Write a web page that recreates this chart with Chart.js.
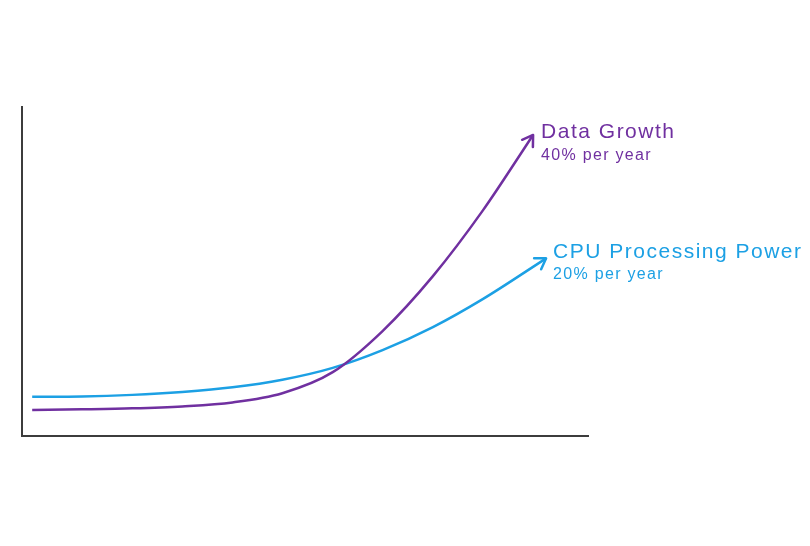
<!DOCTYPE html>
<html>
<head>
<meta charset="utf-8">
<script src="https://cdn.jsdelivr.net/npm/chart.js@4/dist/chart.umd.min.js"></script>
<style>
  html, body { margin: 0; padding: 0; background: #ffffff; }
  #wrap { width: 810px; height: 546px; }
</style>
</head>
<body>
<div id="wrap"><canvas id="c" width="810" height="546"></canvas></div>
<script>
// ---- data (x and y in arbitrary 0-100 units) ----
const seriesNames = ["Data Growth", "CPU Processing Power"];
const seriesRates = ["40% per year", "20% per year"];

const dataGrowthX = [1.8, 10.6, 19.5, 28.3, 37.2, 46.0, 54.9, 63.7, 72.6, 81.4, 90.3];
const dataGrowthY = [7.9, 8.1, 8.4, 9.0, 10.2, 13.0, 19.4, 31.9, 48.6, 68.5, 91.5];

const cpuPowerX = [1.8, 10.6, 19.5, 28.3, 37.2, 46.0, 54.9, 63.7, 72.6, 81.4, 92.6];
const cpuPowerY = [11.9, 12.0, 12.5, 13.4, 14.8, 17.1, 20.7, 26.1, 33.1, 41.6, 54.0];

// ---- styles ----
const colors = ["#7030a0", "#1ca0e4"];

function toPoints(xs, ys) { return xs.map((x, i) => ({ x: x, y: ys[i] })); }

const arrowLabelPlugin = {
  id: 'arrowLabels',
  afterDatasetsDraw(chart) {
    const ctx = chart.ctx;
    const offs = [
      { dx: 8, ty: 3, sy: 25 },
      { dx: 7, ty: 0, sy: 21 }
    ];
    chart.data.datasets.forEach((ds, i) => {
      const meta = chart.getDatasetMeta(i);
      const pts = meta.data;
      const a = pts[pts.length - 1];
      const b = pts[pts.length - 2];
      let ang;
      if (a.cp1x !== undefined && (a.cp1x !== a.x || a.cp1y !== a.y)) {
        ang = Math.atan2(a.y - a.cp1y, a.x - a.cp1x);
      } else {
        ang = Math.atan2(a.y - b.y, a.x - b.x);
      }
      const L = 12, spread = Math.PI / 5.5;
      ctx.save();
      ctx.strokeStyle = ds.borderColor;
      ctx.lineWidth = 2.5;
      ctx.lineCap = 'round';
      ctx.lineJoin = 'round';
      ctx.beginPath();
      ctx.moveTo(a.x - L * Math.cos(ang - spread), a.y - L * Math.sin(ang - spread));
      ctx.lineTo(a.x, a.y);
      ctx.lineTo(a.x - L * Math.cos(ang + spread), a.y - L * Math.sin(ang + spread));
      ctx.stroke();

      // labels
      const o = offs[i];
      ctx.fillStyle = ds.borderColor;
      ctx.textAlign = 'left';
      ctx.textBaseline = 'alphabetic';
      ctx.font = '21px "Liberation Sans", Arial, sans-serif';
      if ('letterSpacing' in ctx) ctx.letterSpacing = '1.5px';
      ctx.fillText(seriesNames[i], a.x + o.dx, a.y + o.ty);
      ctx.font = '16px "Liberation Sans", Arial, sans-serif';
      if ('letterSpacing' in ctx) ctx.letterSpacing = '1.3px';
      ctx.fillText(seriesRates[i], a.x + o.dx, a.y + o.sy);
      ctx.restore();
    });
  }
};

new Chart(document.getElementById('c'), {
  type: 'line',
  data: {
    datasets: [
      {
        label: seriesNames[0],
        data: toPoints(dataGrowthX, dataGrowthY),
        borderColor: colors[0],
        borderWidth: 2.5,
        pointRadius: 0,
        cubicInterpolationMode: 'monotone',
        fill: false
      },
      {
        label: seriesNames[1],
        data: toPoints(cpuPowerX, cpuPowerY),
        borderColor: colors[1],
        borderWidth: 2.5,
        pointRadius: 0,
        cubicInterpolationMode: 'monotone',
        fill: false
      }
    ]
  },
  options: {
    responsive: false,
    animation: false,
    events: [],
    layout: { padding: { left: 22, top: 107, right: 222, bottom: 110 } },
    plugins: { legend: { display: false }, tooltip: { enabled: false } },
    scales: {
      x: {
        type: 'linear', min: 0, max: 100,
        grid: { display: false, drawTicks: false },
        ticks: { display: false },
        border: { display: true, color: '#3c3c3c', width: 2 }
      },
      y: {
        type: 'linear', min: 0, max: 100,
        grid: { display: false, drawTicks: false },
        ticks: { display: false },
        border: { display: true, color: '#3c3c3c', width: 2 }
      }
    }
  },
  plugins: [arrowLabelPlugin]
});
</script>
</body>
</html>
